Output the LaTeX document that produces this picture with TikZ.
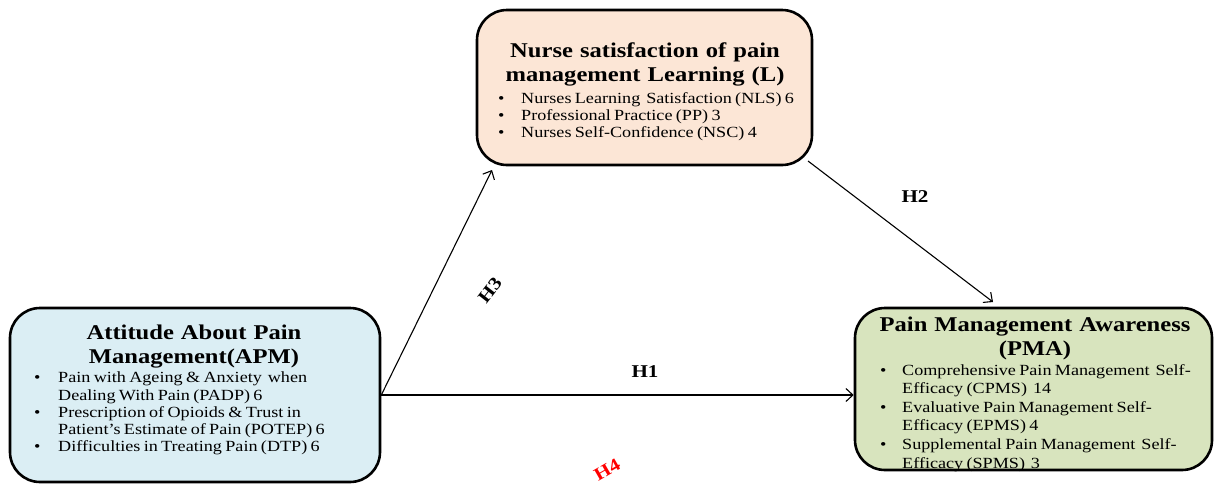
\documentclass[tikz,border=0pt]{standalone}
\usepackage{fontspec}
\usepackage{graphicx}
\setmainfont[FakeStretch=1.17,WordSpace=1.15]{Liberation Serif}
\usetikzlibrary{arrows.meta,calc}
\definecolor{apmfill}{HTML}{DBEEF4}
\definecolor{lfill}{HTML}{FCE6D6}
\definecolor{pmafill}{HTML}{D8E4BE}
\definecolor{hred}{HTML}{FF0000}
\newcommand{\bl}[2]{\noindent\makebox[#1][l]{\textbullet}#2\par}
\newcommand{\cl}[2]{\noindent\hspace*{#1}#2\par}
\begin{document}
\begin{tikzpicture}[x=1pt,y=-1pt,
  box/.style={draw=black, line width=2.6pt, rounded corners=30pt, inner sep=0pt},
  ttl/.style={anchor=north, inner sep=0pt, align=center, font=\bfseries\fontsize{21}{24}\selectfont},
  lst/.style={anchor=north west, inner sep=0pt, text width=340pt},
  conn/.style={line width=1.1pt, -{Straight Barb[length=7pt,width=13pt,line width=1.1pt]}},
  hlab/.style={inner sep=1pt, font=\bfseries\fontsize{18}{20}\selectfont}]
\useasboundingbox (0,0) rectangle (1215,485);
% APM
\node[box, fill=apmfill, minimum width=370pt, minimum height=174pt] (apm) at (195,395) {};
\node[ttl] (apmttl) at (194,325) {Attitude About Pain\\ Management(APM)};
\node[lst] (apmtxt) at (34,372) {%
  \fontsize{15.5}{17.2}\selectfont
  \bl{24pt}{Pain with Ageing \& Anxiety\, when}
  \cl{24pt}{Dealing With Pain (PADP) 6}
  \bl{24pt}{Prescription of Opioids \& Trust in}
  \cl{24pt}{Patient’s Estimate of Pain (POTEP) 6}
  \bl{24pt}{Difficulties in Treating Pain (DTP) 6}};
% L
\node[box, fill=lfill, minimum width=335pt, minimum height=155pt] (l) at (644.5,87.5) {};
\node[ttl] (lttl) at (645,43) {Nurse satisfaction of pain\\ management Learning (L)};
\node[lst] (ltxt) at (498,92) {%
  \fontsize{15.5}{17}\selectfont
  \bl{23pt}{Nurses Learning\, Satisfaction (NLS) 6}
  \bl{23pt}{Professional Practice (PP) 3}
  \bl{23pt}{Nurses Self-Confidence (NSC) 4}};
% PMA
\node[box, fill=pmafill, minimum width=357pt, minimum height=162pt] (pma) at (1033.5,389) {};
\node[ttl] (pmattl) at (1035,317) {Pain Management Awareness\\ (PMA)};
\node[lst] (pmatxt) at (880,364) {%
  \fontsize{15.5}{18.6}\selectfont
  \bl{22pt}{Comprehensive Pain Management\, Self-}
  \cl{22pt}{Efficacy (CPMS)\, 14}
  \bl{22pt}{Evaluative Pain Management Self-}
  \cl{22pt}{Efficacy (EPMS) 4}
  \bl{22pt}{Supplemental Pain Management\, Self-}
  \cl{22pt}{Efficacy (SPMS)\, 3}};
% connectors
\coordinate (h3end) at (492,170);
\coordinate (h2start) at (808,161);
\coordinate (h2end) at (993,302);
\draw[conn] (apm.east) -- (h3end);
\draw[conn] (apm.east) -- (apm.east -| pma.west);
\draw[conn] (h2start) -- (h2end);
% labels
\node[hlab] (h1) at (645,372) {H1};
\node[hlab] (h2) at (915,197) {H2};
\node[hlab] (h3) at (490,290) {\rotatebox{52}{H3}};
\node[hlab, text=hred] (h4) at (607,470) {\rotatebox{30}{H4}};
\end{tikzpicture}
\end{document}
